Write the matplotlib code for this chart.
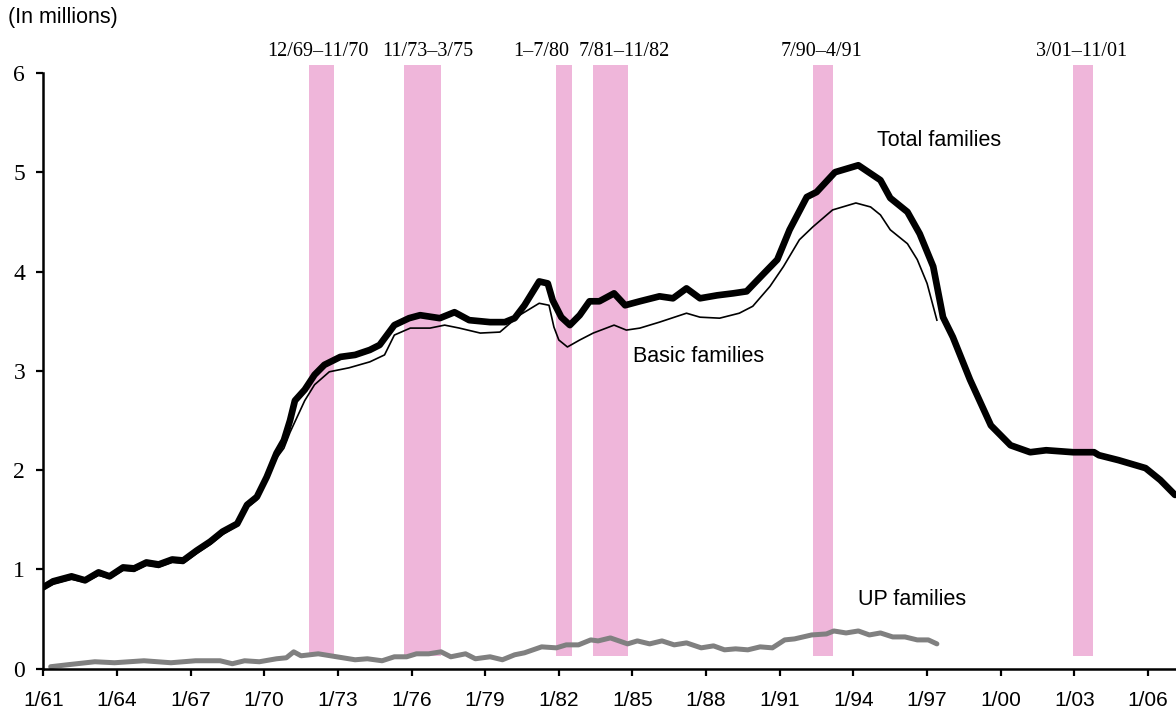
import matplotlib
matplotlib.use("Agg")
import matplotlib.pyplot as plt

# recession bands as drawn (start, end in decimal years) and their labels
rec_start = [1971.84, 1975.69, 1981.88, 1983.39, 1992.35, 2002.94]
rec_end = [1972.84, 1977.20, 1982.54, 1984.82, 1993.17, 2003.76]
rec_labels = ["12/69\u201311/70", "11/73\u20133/75", "1\u20137/80", "7/81\u201311/82", "7/90\u20134/91", "3/01\u201311/01"]
rec_label_x = [1972.19, 1976.67, 1981.29, 1984.67, 1992.68, 2003.30]

total_years = [1961.0, 1961.4, 1962.15, 1962.7, 1963.25, 1963.7, 1964.25, 1964.7, 1965.2, 1965.7,
               1966.25, 1966.7, 1967.25, 1967.8, 1968.3, 1968.9, 1969.3, 1969.7, 1970.1, 1970.5,
               1970.8, 1971.05, 1971.25, 1971.65, 1972.05, 1972.45, 1973.1, 1973.7, 1974.3, 1974.7,
               1975.3, 1975.9, 1976.35, 1977.15, 1977.75, 1978.35, 1979.2, 1979.8, 1980.2, 1980.6,
               1981.2, 1981.55, 1981.75, 1982.1, 1982.45, 1982.85, 1983.25, 1983.65, 1984.25, 1984.7,
               1985.3, 1986.1, 1986.65, 1987.2, 1987.75, 1988.45, 1989.1, 1989.65, 1990.35, 1990.9,
               1991.0, 1991.4, 1992.1, 1992.5, 1993.25, 1994.2, 1995.1, 1995.5, 1996.2, 1996.7,
               1997.25, 1997.65, 1998.05, 1998.75, 1999.6, 2000.4, 2001.2, 2001.85, 2002.95, 2003.8,
               2004.0, 2004.8, 2005.9, 2006.5, 2007.1]
total_vals = [0.82, 0.88, 0.93, 0.89, 0.97, 0.93, 1.02, 1.01, 1.07, 1.05,
              1.10, 1.09, 1.19, 1.28, 1.38, 1.46, 1.65, 1.73, 1.93, 2.17,
              2.30, 2.50, 2.70, 2.81, 2.96, 3.06, 3.14, 3.16, 3.21, 3.26,
              3.46, 3.53, 3.56, 3.53, 3.59, 3.51, 3.49, 3.49, 3.53, 3.66,
              3.90, 3.88, 3.71, 3.54, 3.46, 3.56, 3.70, 3.70, 3.78, 3.66,
              3.70, 3.75, 3.73, 3.83, 3.73, 3.76, 3.78, 3.80, 3.98, 4.12,
              4.18, 4.42, 4.75, 4.80, 5.00, 5.07, 4.92, 4.74, 4.60, 4.38,
              4.05, 3.54, 3.34, 2.91, 2.45, 2.25, 2.18, 2.20, 2.18, 2.18,
              2.15, 2.10, 2.02, 1.90, 1.75]

basic_years = [1961.0, 1961.4, 1962.15, 1962.7, 1963.25, 1963.7, 1964.25, 1964.7, 1965.2, 1965.7,
               1966.25, 1966.7, 1967.25, 1967.8, 1968.3, 1968.9, 1969.3, 1969.7, 1970.1, 1970.5,
               1970.8, 1971.05, 1971.65, 1972.05, 1972.65, 1973.45, 1974.3, 1974.9, 1975.3, 1975.95,
               1976.75, 1977.35, 1977.95, 1978.8, 1979.6, 1980.4, 1981.2, 1981.6, 1981.8, 1982.0,
               1982.35, 1982.85, 1983.4, 1984.25, 1984.75, 1985.3, 1986.1, 1987.2, 1987.75, 1988.55,
               1989.35, 1989.9, 1990.6, 1991.15, 1991.8, 1992.35, 1993.15, 1994.1, 1994.7, 1995.1,
               1995.5, 1996.2, 1996.6, 1997.0, 1997.4]
basic_vals = [0.80, 0.85, 0.90, 0.87, 0.94, 0.91, 0.99, 0.98, 1.04, 1.02,
              1.07, 1.06, 1.16, 1.25, 1.35, 1.44, 1.62, 1.70, 1.90, 2.12,
              2.22, 2.38, 2.70, 2.86, 2.99, 3.03, 3.09, 3.16, 3.36, 3.43,
              3.43, 3.46, 3.43, 3.38, 3.39, 3.56, 3.68, 3.66, 3.44, 3.31,
              3.24, 3.31, 3.38, 3.46, 3.41, 3.43, 3.49, 3.58, 3.54, 3.53,
              3.58, 3.65, 3.85, 4.05, 4.32, 4.45, 4.62, 4.69, 4.65, 4.57,
              4.42, 4.28, 4.12, 3.88, 3.51]

up_years = [1961.3, 1962.0, 1963.1, 1963.9, 1965.1, 1966.2, 1967.2, 1968.2, 1968.7, 1969.2,
            1969.8, 1970.5, 1970.9, 1971.2, 1971.5, 1972.2, 1972.95, 1973.7, 1974.2, 1974.8,
            1975.3, 1975.8, 1976.2, 1976.7, 1977.2, 1977.6, 1978.2, 1978.6, 1979.2, 1979.7,
            1980.2, 1980.6, 1981.3, 1981.9, 1982.3, 1982.8, 1983.3, 1983.6, 1984.1, 1984.8,
            1985.2, 1985.7, 1986.2, 1986.7, 1987.2, 1987.8, 1988.3, 1988.75, 1989.2, 1989.7,
            1990.2, 1990.7, 1991.2, 1991.6, 1992.3, 1992.9, 1993.2, 1993.7, 1994.2, 1994.65,
            1995.1, 1995.6, 1996.1, 1996.6, 1997.05, 1997.4]
up_vals = [0.02, 0.04, 0.07, 0.06, 0.08, 0.06, 0.08, 0.08, 0.05, 0.08,
           0.07, 0.10, 0.11, 0.17, 0.13, 0.15, 0.12, 0.09, 0.10, 0.08,
           0.12, 0.12, 0.15, 0.15, 0.17, 0.12, 0.15, 0.10, 0.12, 0.09,
           0.14, 0.16, 0.22, 0.21, 0.24, 0.24, 0.29, 0.28, 0.31, 0.25,
           0.28, 0.25, 0.28, 0.24, 0.26, 0.21, 0.23, 0.19, 0.20, 0.19,
           0.22, 0.21, 0.29, 0.30, 0.34, 0.35, 0.38, 0.36, 0.38, 0.34,
           0.36, 0.32, 0.32, 0.29, 0.29, 0.25]

tick_years = list(range(1961, 2007, 3))
tick_labels = ["1/%02d" % (y % 100) for y in tick_years]

W, H = 1176, 713
x0, y0 = 43.3, 668.7      # pixel position of (1961, 0)
ppu = 99.3                # pixels per million
fig = plt.figure(figsize=(W / 100, H / 100), dpi=100)
ax = fig.add_axes([x0 / W, 1 - y0 / H, 1 - x0 / W, 6.1 * ppu / H])
ax.set_xlim(1961, 2007.14)
ax.set_ylim(0, 6.1)

pink = "#EFB6DA"
for s, e in zip(rec_start, rec_end):
    ax.bar(s, 6.08 - 0.13, width=e - s, bottom=0.13, align="edge", color=pink, lw=0, zorder=1)
for lx, lab in zip(rec_label_x, rec_labels):
    ax.text(lx, 6.22, lab, ha="center", va="center", fontsize=14.5,
            family="Liberation Serif", zorder=3)

ax.plot(up_years, up_vals, color="#808080", lw=3.6, solid_capstyle="round", zorder=2)
ax.plot(basic_years, basic_vals, color="black", lw=1.2, zorder=2)
ax.plot(total_years, total_vals, color="black", lw=4.8, solid_capstyle="round", zorder=2)

ax.text(1994.96, 5.32, "Total families", fontsize=15.5, family="Liberation Sans", va="center")
ax.text(1985.02, 3.14, "Basic families", fontsize=15.5, family="Liberation Sans", va="center")
ax.text(1994.18, 0.70, "UP families", fontsize=15.5, family="Liberation Sans", va="center")
fig.text(8 / W, 1 - 18 / H, "(In millions)", fontsize=15.5, family="Liberation Sans", va="center")

for side in ["top", "right"]:
    ax.spines[side].set_visible(False)
ax.spines["left"].set_bounds(0, 6)
for side in ["left", "bottom"]:
    ax.spines[side].set_linewidth(1.8)

ax.set_yticks(range(0, 7))
ax.set_yticklabels([str(v) for v in range(0, 7)], family="Liberation Serif", fontsize=17)
ax.set_xticks(tick_years)
ax.set_xticklabels(tick_labels, family="Liberation Sans", fontsize=15)
ax.tick_params(axis="y", direction="out", length=5, width=1.6, pad=8)
ax.tick_params(axis="x", direction="out", length=5, width=1.6, pad=11)

fig.savefig("out.png", dpi=100)
